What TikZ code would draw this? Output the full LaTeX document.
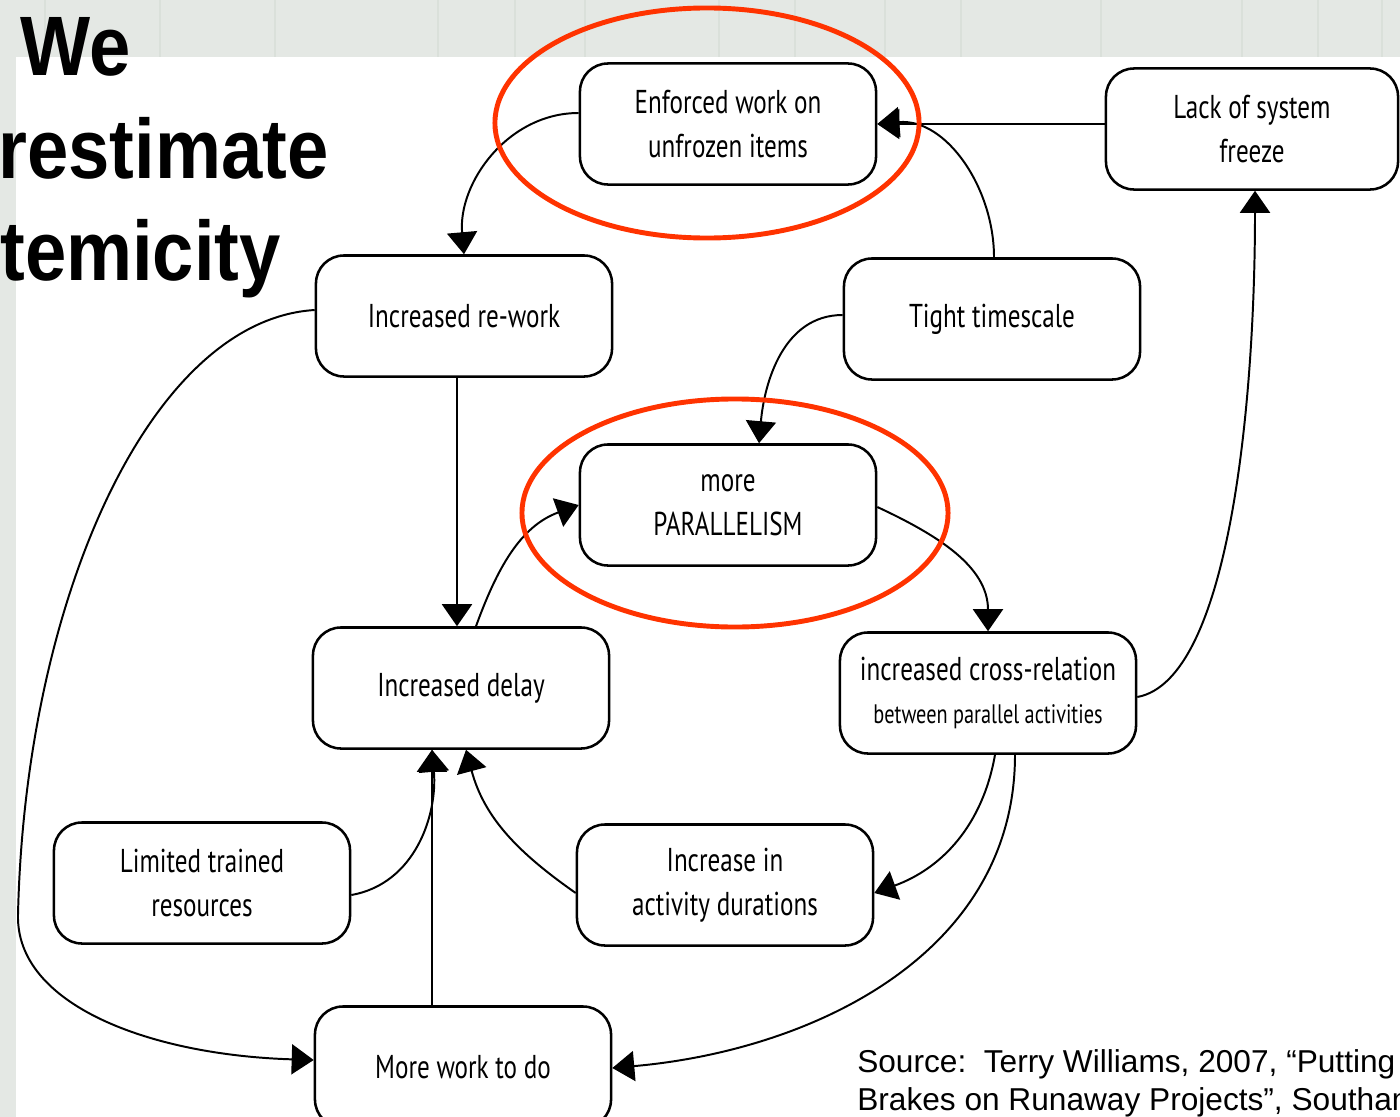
\documentclass[tikz,border=0pt]{standalone}
\usepackage{fontspec}
\usetikzlibrary{arrows.meta,calc}
\newfontfamily\boxfont[FakeStretch=0.76]{PT Sans}
\newfontfamily\titlefont[FakeStretch=0.88]{Liberation Sans}
\newfontfamily\notefont{Liberation Sans}
\definecolor{ringred}{RGB}{255,51,0}
\definecolor{slidegrey}{RGB}{228,232,228}
\definecolor{slideline}{RGB}{218,224,218}
\tikzset{
  factor/.style={draw=black,line width=1.8pt,rounded corners=0.7cm,fill=white,
                 minimum width=7.4cm,minimum height=3.025cm,inner sep=0pt,
                 align=center,font=\boxfont\fontsize{23.5}{31}\selectfont},
  link/.style={-{Triangle[length=5.5mm,width=7.5mm]},line width=1.4pt},
  ring/.style={draw=ringred,line width=3.5pt},
  heading/.style={anchor=base west,inner sep=0pt,
                  font=\titlefont\bfseries\fontsize{60}{60}\selectfont},
  note/.style={anchor=north west,align=left,inner sep=0pt,
               font=\notefont\fontsize{22.5}{27}\selectfont},
}

\begin{document}
\begin{tikzpicture}[x=0.025cm,y=-0.025cm]
  \useasboundingbox (0,0) rectangle (1400,1117);
  \clip (0,0) rectangle (1400,1117);
  % slide background
  \fill[slidegrey] (0,0) rectangle (1400,1117);
  \foreach \x in {45,160,275,438,515,585,719,795,885,961,1101,1242,1318,1382}
    \draw[slideline,line width=2pt] (\x,0) -- (\x,57);
  \fill[white] (16,57) rectangle (1400,1117);

  \node[factor] (enforced) at (728,124) {Enforced work on\\unfrozen items};
  \node[factor,minimum width=7.3cm] (freeze) at (1252,129) {Lack of system\\freeze};
  \node[factor] (rework) at (464,316) {Increased re-work};
  \node[factor] (timescale) at (992,319) {Tight timescale};
  \node[factor] (parallel) at (728,505) {more\\PARALLELISM};
  \node[factor] (delay) at (461,688) {Increased delay};
  \node[factor] (crossrel) at (988,693)
    {increased cross-relation\\{\fontsize{19}{24}\selectfont between parallel activities}};
  \node[factor] (limited) at (202,883) {Limited trained\\resources};
  \node[factor] (durations) at (725,885) {Increase in\\activity durations};
  \node[factor] (morework) at (463,1067) {More work to do};
  \coordinate (leftbend) at (18,915);

  \draw[link] ($(enforced.west)+(0,-11)$) to[out=180,in=95] (rework.north);
  \draw[link] (freeze.west |- enforced.east) -- (enforced.east);
  \draw[link] ($(timescale.north)+(2,0)$) to[out=90,in=5] (enforced.east);
  \draw[link] ($(timescale.west)+(0,-4)$) to[out=180,in=85] ($(parallel.north)+(31,0)$);
  \draw[link] ($(rework.south)+(-7,0)$) -- ($(delay.north)+(-4,0)$);
  \draw[link] ($(delay.north)+(15,0)$) to[out=70,in=200] (parallel.west);
  \draw[link] ($(parallel.east)+(0,2)$) to[out=-25,in=90] (crossrel.north);
  \draw[link] ($(crossrel.east)+(0,4)$) .. controls (1230,680) and (1255,400)
    .. ($(freeze.south)+(3,0)$);
  \draw[link] ($(crossrel.south)+(7,0)$) to[out=-100,in=20] ($(durations.east)+(0,8)$);
  \draw[link] ($(crossrel.south)+(27,0)$) to[out=-90,in=5] ($(morework.east)+(0,1)$);
  \draw[link] ($(durations.west)+(0,8)$) to[out=145,in=-75] ($(delay.south)+(5,0)$);
  \draw[link] ($(limited.east)+(0,12)$) to[out=10,in=-85] ($(delay.south)+(-29,0)$);
  \draw[link] ($(morework.north)+(-31,0)$) -- ($(delay.south)+(-29,0)$);
  \draw[link] ($(rework.west)+(0,-6)$) .. controls (150,320) and (25,600) .. (leftbend)
    .. controls (16,1005) and (150,1055) .. ($(morework.west)+(0,-7)$);

  % highlighted factors
  \draw[ring] (707,123) ellipse [x radius=5.3cm,y radius=2.875cm];
  \draw[ring] (735,513) ellipse [x radius=5.325cm,y radius=2.85cm];

  \node[heading] (we) at (20,75) {We};
  \node[heading] (restimate) at (-2,178) {restimate};
  \node[heading] (temicity) at (0,280) {temicity};

  \node[note] (source) at (857,1049)
    {Source:\ \ Terry Williams, 2007, “Putting\\Brakes on Runaway Projects”, Southam};
\end{tikzpicture}
\end{document}
